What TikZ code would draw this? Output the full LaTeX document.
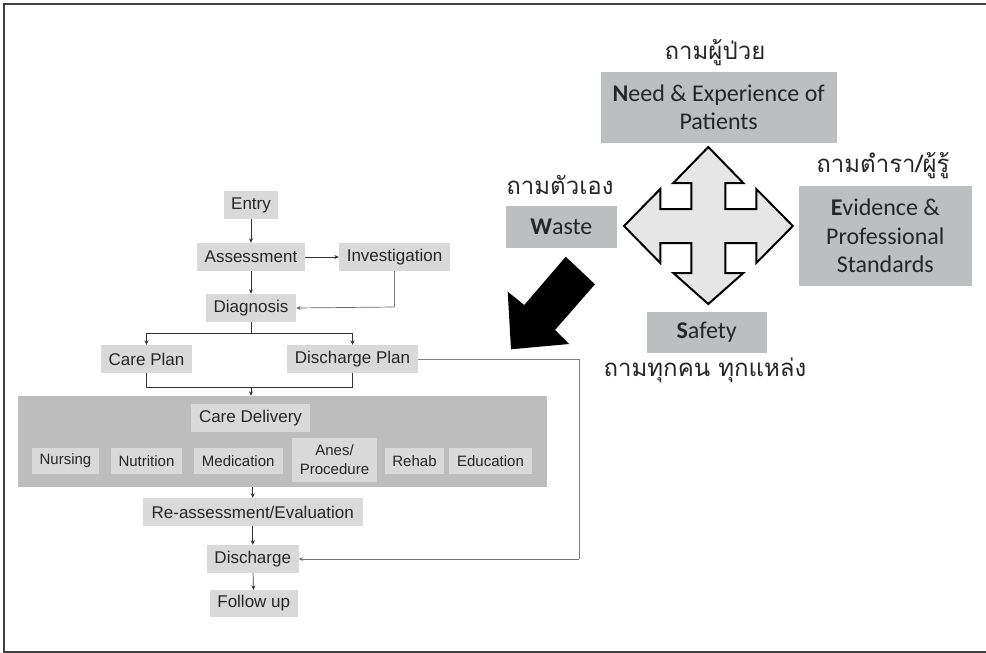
\documentclass[tikz,border=0pt]{standalone}
\usepackage{fontspec}
\setmainfont{Liberation Sans}
\newfontfamily\calfont{Carlito}
\newfontfamily\thaifont[Script=Thai]{Loma}
\usetikzlibrary{arrows.meta}
\definecolor{fbox}{HTML}{D9D9D9}
\definecolor{panel}{HTML}{BDBDBD}
\definecolor{rbox}{HTML}{BDBEC0}
\definecolor{crossfill}{HTML}{E6E6E6}
\definecolor{txt}{HTML}{262626}
\begin{document}
\begin{tikzpicture}[x=1pt,y=-1pt,
 flow/.style={fill=fbox,inner sep=0pt,minimum height=28pt,text=txt,font=\fontsize{17}{20}\selectfont},
 sub/.style={fill=fbox,inner sep=0pt,minimum height=26pt,text=txt,font=\fontsize{15}{19}\selectfont,align=center},
 rb/.style={fill=rbox,inner sep=0pt,text=txt,font=\calfont\fontsize{24}{28.5}\selectfont,align=center},
 th/.style={text=txt,font=\thaifont\fontsize{24}{28}\selectfont,inner sep=0pt},
 arr/.style={draw=black!80,line width=0.7pt,-{Stealth[length=4.5pt,width=4pt]}},
 ln/.style={draw=black!80,line width=0.7pt},
 gln/.style={draw=black!50,line width=0.8pt},
]
\useasboundingbox (0,0) rectangle (986,653);
\draw[black!75,line width=1.5pt] (1100,652) -- (4,652) -- (4,4) -- (1100,4);

% ---------- flowchart ----------
\node[flow,minimum width=54pt] (entry) at (251,205) {Entry};
\node[flow,minimum width=108pt] (assess) at (251,257) {Assessment};
\node[flow,minimum width=111pt] (invest) at (394.5,257) {Investigation};
\node[flow,minimum width=90pt] (diag) at (251,308) {Diagnosis};
\node[flow,minimum width=91pt] (careplan) at (146.5,359) {Care Plan};
\node[flow,minimum width=131pt] (dplan) at (352.5,359) {Discharge Plan};
\node[fill=panel,inner sep=0pt,minimum width=529pt,minimum height=91pt] (panel) at (282.5,441.5) {};
\node[flow,minimum width=119pt] (cdel) at (250.5,418) {Care Delivery};
\node[sub,minimum width=67pt] (nurs) at (65.5,461) {Nursing};
\node[sub,minimum width=71pt] (nutr) at (146.5,461) {Nutrition};
\node[sub,minimum width=88.5pt] (medi) at (238.25,461) {Medication};
\node[sub,minimum width=85pt,minimum height=44pt] (anes) at (334.5,460) {Anes/\\Procedure};
\node[sub,minimum width=59pt] (rehab) at (414.5,461) {Rehab};
\node[sub,minimum width=83pt] (edu) at (490.5,461) {Education};
\node[flow,minimum width=219.5pt] (reass) at (252.75,512) {Re-assessment/Evaluation};
\node[flow,minimum width=91.5pt] (disch) at (252.75,559) {Discharge};
\node[flow,minimum width=87.5pt,minimum height=27pt] (follow) at (253.75,603.5) {Follow up};

\coordinate (dj) at (251,333);
\coordinate (cj) at (251,387);
\coordinate (dpr) at (579,359);
\coordinate (dpb) at (579,559);
\coordinate (ivb) at (394.5,307);

\draw[arr] (entry) -- (assess);
\draw[arr] (assess) -- (invest);
\draw[arr] (assess) -- (diag);
\draw[gln] (invest.south) -- (ivb);
\draw[arr,draw=black!60] (ivb) -- (diag.east);
\draw[ln] (diag.south) -- (dj);
\draw[arr] (dj) -| (careplan.north);
\draw[arr] (dj) -| (dplan.north);
\draw[ln] (careplan.south) |- (cj);
\draw[ln] (dplan.south) |- (cj);
\draw[arr] (cj) -- (panel.north -| cj);
\draw[arr] (panel.south -| reass.north) -- (reass.north);
\draw[arr] (reass) -- (disch);
\draw[arr] (disch) -- (follow);
\draw[gln] (dplan.east) -- (dpr) -- (dpb);
\draw[arr,draw=black!55] (dpb) -- (disch.east);

% ---------- right part ----------
\node[th] (t1) at (715,53) {ถามผู้ป่วย};
\node[rb,minimum width=236pt,minimum height=70.7pt] (need) at (718.7,107.3) {{\bfseries N}eed \& Experience of\\Patients};
\node[th] (t2) at (560,185) {ถามตัวเอง};
\node[rb,minimum width=110.7pt,minimum height=41.7pt] (waste) at (561.3,226.8) {{\bfseries W}aste};
\node[th] (t3) at (883,166) {ถามตำรา/ผู้รู้};
\node[rb,minimum width=172.7pt,minimum height=99.7pt] (evid) at (885.3,235.8) {{\bfseries E}vidence \&\\Professional\\Standards};
\node[rb,minimum width=120pt,minimum height=41pt] (safe) at (706.7,332.5) {{\bfseries S}afety};
\node[th] (t4) at (705,370) {ถามทุกคน ทุกแหล่ง};

% four-way arrow
\begin{scope}[shift={(708.3,226)}]
\draw[fill=crossfill,line width=2pt,line join=miter]
 (0,-79) -- (35,-43) -- (17,-43) -- (17,-17) -- (48,-17) -- (48,-37) -- (84.5,0)
 -- (48,37) -- (48,17) -- (17,17) -- (17,47) -- (35,47) -- (0,78)
 -- (-35,47) -- (-17,47) -- (-17,17) -- (-48,17) -- (-48,37) -- (-84.3,0)
 -- (-48,-37) -- (-48,-17) -- (-17,-17) -- (-17,-43) -- (-35,-43) -- cycle;
\end{scope}

% big black arrow
\fill[black] (565.7,256.7) -- (595,284.3) -- (555,330) -- (569,344) -- (511,349.3)
 -- (507.7,291.7) -- (524.3,305) -- cycle;
\end{tikzpicture}
\end{document}
